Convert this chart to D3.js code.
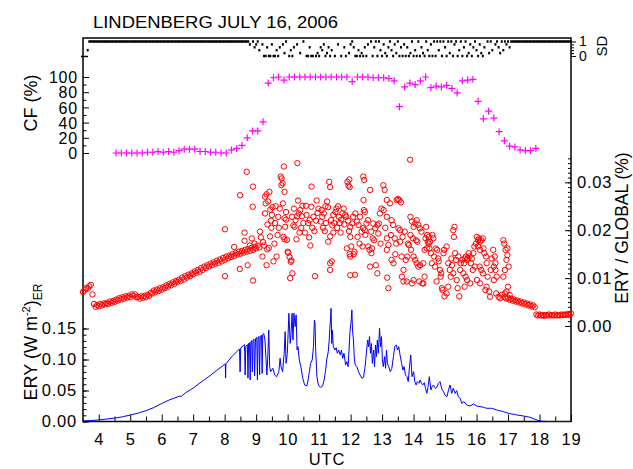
<!DOCTYPE html>
<html>
<head>
<meta charset="utf-8">
<script src="https://cdn.jsdelivr.net/npm/d3@7"></script>
<style>
  body { margin: 0; background: #fff; }
  svg text { font-family: "Liberation Sans", Arial, sans-serif; fill: #000; }
</style>
</head>
<body>
<svg id="chart" width="633" height="469"></svg>
<script>
// ---- tick labels ----
const hourTicks = [4, 5, 6, 7, 8, 9, 10, 11, 12, 13, 14, 15, 16, 17, 18, 19];
const eryTicks = [0, 0.05, 0.10, 0.15];
const ratioTicks = [0, 0.01, 0.02, 0.03];
const cfTicks = [0, 20, 40, 60, 80, 100];
const sdTicks = [0, 1];

// ---- cloud fraction (%), 10-minute values starting 4:33 UTC ----
const cfStart = 4.55, cfStep = 1 / 6;
const cfValues = [
  0, 0, 0, 0, 0, 0, 1, 1, 2, 1, 2, 1, 3, 5, 5, 5, 2, 2, 1, 1,
  0, 0, 4, 6, 10, 20, 29, 29, 41, 92, 99, 100, 96, 100,
  100, 100, 100, 100, 100, 100, 100, 100, 100, 100, 100,
  94, 100, 100, 100, 99, 99, 99, 98, 95, 61, 87, 92, 90, 95, 100,
  86, 88, 87, 89, 85, 79, 95, 96, 97, 68, 45, 55, 46, 28, 16, 9,
  8, 4, 3, 3, 6
];

// ---- sun-disk indicator (SD), 3-minute values from 3:30 UTC, null = missing ----
const sdStart = 3.5, sdStep = 0.05;
const sdValues = [
  null, null, null, 0.4,
  1,1,1,1,1,1,1,1,1,1, 1,1,1,1,1,1,1,1,1,1, 1,1,1,1,1,1,1,1,1,1, 1,1,1,1,1,1,1,1,1,1,
  1,1,1,1,1,1,1,1,1,1, 1,1,1,1,1,1,1,1,1,1, 1,1,1,1,1,1,1,1,1,1, 1,1,1,1,1,1,1,1,1,1,
  1,1,1,1,1,1,1,1,1,1, 1,1,1,1,1,1,1,1,1,1, 1,
  1, 0.8, null, 1, 0.6,
  0.8, 1, 0.4, null, 0.8,
  0, 0, 0.6, 0, 0, 0.8, 0, 0, 0.4, 0,
  0.6, null, 0.8, 0.2, 1, null, 0, 0.4, 0, 0.6,
  null, 0.8, null, 0.2, null, 1, null,
  0, 0, 0.6, 0, 0, null, 0, 0.2, 0,
  0.6, 0.4, 0.8, 0, 0.2, 0.6, 0, 0.4,
  null, 0, null, 0.8, null, 0, null, 0.6, 0, null, 0.2,
  0.8, 1, 0.6, 0, 0, 0.4, 0, 0.2, 0, 0.6, 0,
  0.8, null, 1, 0, 0.6, 1, 0, 1, 0.4, 0, 0.8, 0.2, 0, 0.6,
  1, 0.4, 0, 0.8, 0.2, 1, 0, 0.6,
  0, 0.8, 0, 0.6, 0, 0.2, 1, 0, 0.4, 0, 1, 0, 0.6, 0.2, 0, 1, 0.4, 0, 0.8, 0,
  1, 0, 1, 0.4, 1, 0, 1, 0.6, 0, 1, 0.2, 1, 0, 0.8, 1, 0, 0.4, 1, 0, 0.6, 1, 0, 0.2, 0.8, 0, 0.6, 1, 0.4, 0, 0.8, 0.2, 0,
  0.6, null, 1, 0.2, 1, 0.4, null, 0.8, 1, 0.6, 0.2, 1, 0.4, 1, 0.8, 1, 0.6, 1,
  1,1,1,1,1,1,1,1,1,1, 1,1,1,1,1,1,1,1,1,1, 1,1,1,1,1,1,1,1,1,1, 1,1,1,1,1,1,1,1
];

// ---- ERY / GLOBAL (%) : smooth morning record, 3-minute values from 3:30 UTC ----
const ratioMorningStart = 3.5, ratioStep = 0.05;
const ratioMorning = [
  .0071, .0075, .0079, .0078, .0083, .0086, .0066, .0046, .0040, .0044,
  .0041, .0046, .0043, .0047, .0045, .0048, .0046, .0051, .0048, .0052,
  .0050, .0055, .0053, .0058, .0055, .0060, .0057, .0062, .0059, .0063,
  .0060, .0066, .0063, .0066, .0060, .0061, .0057, .0062, .0059, .0063,
  .0060, .0065, .0063, .0069, .0068, .0074, .0071, .0076, .0073, .0079,
  .0076, .0081, .0079, .0085, .0082, .0088, .0085, .0091, .0088, .0094,
  .0092, .0097, .0094, .0101, .0097, .0104, .0101, .0107, .0104, .0110,
  .0108, .0114, .0111, .0117, .0113, .0121, .0117, .0124, .0121, .0127,
  .0124, .0130, .0127, .0133, .0130, .0136, .0132, .0139, .0135, .0142,
  .0138, .0145, .0141, .0147, .0144, .0150, .0146, .0152, .0149, .0155,
  .0151, .0157, .0153, .0159, .0155, .0161, .0157, .0163, .0159, .0165,
  .0162, .0168, .0164
];
// evening record from 16:54 UTC
const ratioEveningStart = 16.9;
const ratioEvening = [
  .0060, .0057, .0059, .0055, .0057, .0053, .0055, .0051, .0053, .0049,
  .0051, .0047, .0049, .0045, .0047, .0043, .0045, .0041, .0043, .0039,
  .0024, .0022, .0024, .0022, .0023, .0021, .0023, .0022, .0024, .0022,
  .0023, .0022, .0024, .0022, .0023, .0022, .0024, .0023, .0024, .0023,
  .0025, .0024, .0026
];
// cloudy period: [UTC hour, ratio]
const ratioCloudy = [
  [8.01,.0202],[8.01,.0104],[8.49,.0273],[8.48,.0119],[8.30,.0165],
  [8.70,.0322],[8.63,.0195],[8.63,.0178],[8.89,.0249],[8.90,.0291],[8.86,.0183],[8.73,.0127],[8.90,.0095],[8.80,.0168],[8.95,.0172],
  [9.12,.0197],[9.20,.0145],[9.28,.0235],[9.28,.0270],[9.30,.0256],[9.33,.0275],[9.38,.0260],[9.42,.0280],[9.45,.0243],[9.47,.0220],
  [9.48,.0205],[9.33,.0127],[9.35,.0160],[9.40,.0163],[9.22,.0175],[9.25,.0168],[9.15,.0185],[9.44,.0187],[9.50,.0232],[9.36,.0212],
  [9.65,.0145],[9.55,.0135],[9.60,.0215],[9.62,.0250],[9.70,.0228],[9.75,.0245],[9.81,.0308],[9.80,.0294],[9.84,.0298],[9.78,.0312],
  [9.88,.0333],[9.90,.0280],[9.85,.0256],[9.90,.0225],[9.92,.0207],[9.87,.0186],[9.90,.0181],[9.98,.0180],[9.95,.0222],[10.00,.0155],
  [9.58,.0172],[9.68,.0190],[9.72,.0205],[9.95,.0238],[9.52,.0248],
  [10.02,.0153],[10.06,.0144],[10.10,.0134],[10.12,.0137],[10.08,.0100],[10.15,.0110],[10.31,.0340],[10.18,.0210],[10.22,.0207],[10.25,.0221],
  [10.30,.0229],[10.35,.0235],[10.40,.0242],[10.45,.0229],[10.50,.0215],[10.28,.0181],[10.38,.0195],[10.20,.0245],[10.43,.0205],[10.33,.0262],
  [10.47,.0251],[10.14,.0228],
  [10.76,.0291],[10.87,.0104],[10.75,.0249],[10.78,.0205],[10.60,.0232],[10.65,.0215],[10.70,.0221],[10.82,.0228],[10.90,.0220],[10.95,.0236],
  [10.98,.0245],[10.55,.0195],[10.68,.0185],[10.85,.0198],[10.92,.0262],[10.58,.0251],[10.72,.0168],
  [11.05,.0218],[11.10,.0228],[11.15,.0235],[11.20,.0250],[11.25,.0260],[11.28,.0248],[11.32,.0301],[11.35,.0290],[11.29,.0176],[11.35,.0187],
  [11.38,.0221],[11.42,.0210],[11.45,.0232],[11.48,.0215],[11.35,.0131],[11.35,.0117],[11.40,.0135],[11.12,.0205],[11.18,.0198],[11.08,.0242],
  [11.22,.0215],[11.45,.0195],
  [11.52,.0238],[11.55,.0245],[11.60,.0250],[11.63,.0228],[11.66,.0215],[11.70,.0222],[11.74,.0235],[11.88,.0162],[11.96,.0306],[11.97,.0290],
  [11.97,.0150],[11.99,.0145],[11.99,.0106],[11.99,.0186],[11.99,.0207],[11.93,.0293],[11.90,.0301],[11.86,.0228],[11.80,.0212],[11.83,.0232],
  [11.92,.0220],[11.95,.0198],[11.78,.0245],[11.57,.0205],[11.68,.0195],
  [12.14,.0107],[12.10,.0150],[12.12,.0155],[12.40,.0312],[12.43,.0305],[12.41,.0263],[12.42,.0242],[12.45,.0238],[12.30,.0228],[12.25,.0211],
  [12.35,.0197],[12.40,.0204],[12.45,.0200],[12.50,.0214],[12.47,.0190],[12.20,.0218],[12.15,.0235],[12.05,.0214],[12.08,.0228],[12.28,.0172],
  [12.38,.0166],[12.02,.0166],[12.22,.0186],
  [12.62,.0284],[12.56,.0166],[12.60,.0159],[12.66,.0152],[12.62,.0124],[12.80,.0127],[12.85,.0110],[12.72,.0214],[12.78,.0204],[12.85,.0211],
  [12.90,.0214],[12.88,.0193],[12.68,.0162],[12.75,.0179],[12.95,.0172],[12.55,.0221],[12.93,.0235],[12.98,.0245],[12.65,.0197],[12.70,.0183],
  [13.04,.0294],[13.08,.0284],[13.15,.0263],[13.25,.0256],[13.15,.0228],[13.30,.0221],[13.35,.0211],[13.15,.0183],[13.20,.0169],[13.15,.0159],
  [13.16,.0101],[13.20,.0079],[13.30,.0138],[13.36,.0131],[13.46,.0263],[13.50,.0265],[13.40,.0183],[13.45,.0172],[13.10,.0205],[13.28,.0190],
  [13.42,.0150],[13.05,.0242],
  [13.55,.0263],[13.60,.0258],[13.52,.0204],[13.57,.0200],[13.65,.0186],[13.57,.0176],[13.62,.0145],[13.68,.0117],[13.63,.0103],[13.68,.0093],
  [13.75,.0138],[13.80,.0145],[13.78,.0093],[13.89,.0347],[13.90,.0228],[13.95,.0218],[14.00,.0207],[13.90,.0190],[13.98,.0183],[13.85,.0169],
  [13.92,.0159],[14.00,.0145],[13.95,.0089],[14.00,.0096],[13.82,.0172],[13.72,.0197],
  [14.05,.0214],[14.10,.0221],[14.15,.0211],[14.20,.0204],[14.25,.0197],[14.08,.0179],[14.12,.0176],[14.05,.0138],[14.10,.0131],[14.15,.0124],
  [14.21,.0127],[14.31,.0131],[14.31,.0089],[14.40,.0207],[14.43,.0190],[14.45,.0176],[14.42,.0162],[14.48,.0172],[14.35,.0159],[14.48,.0186],
  [14.28,.0089],[14.50,.0162],[14.38,.0183],[14.18,.0093],[14.35,.0103],
  [14.52,.0176],[14.60,.0190],[14.63,.0183],[14.70,.0162],[14.75,.0159],[14.65,.0145],[14.73,.0093],[14.84,.0117],[14.88,.0110],[14.86,.0103],
  [14.90,.0079],[14.95,.0152],[14.97,.0159],[14.92,.0075],[14.98,.0062],[14.80,.0135],[14.58,.0131],[14.68,.0124],[14.55,.0152],[14.78,.0141],
  [15.05,.0166],[15.10,.0131],[15.15,.0117],[15.05,.0068],[15.10,.0082],[15.26,.0200],[15.30,.0207],[15.28,.0186],[15.32,.0152],[15.22,.0127],
  [15.26,.0110],[15.37,.0096],[15.40,.0079],[15.45,.0062],[15.48,.0117],[15.20,.0141],[15.35,.0138],[15.42,.0145],[15.18,.0103],[15.50,.0131],
  [15.55,.0138],[15.60,.0131],[15.63,.0141],[15.66,.0145],[15.69,.0138],[15.72,.0141],[15.75,.0152],[15.78,.0145],[15.82,.0131],[15.85,.0141],
  [15.90,.0152],[15.58,.0110],[15.65,.0103],[15.70,.0096],[15.88,.0117],[15.95,.0124],[15.62,.0082],[15.80,.0089],[15.93,.0166],[15.98,.0172],
  [16.01,.0186],[16.05,.0179],[16.08,.0183],[16.11,.0176],[16.15,.0179],[16.20,.0183],[16.05,.0166],[16.11,.0159],[16.22,.0162],[16.25,.0152],
  [16.30,.0145],[16.32,.0131],[16.10,.0124],[16.15,.0117],[16.20,.0110],[16.01,.0096],[16.11,.0089],[16.32,.0082],[16.43,.0061],[16.40,.0072],
  [16.35,.0103],[16.28,.0075],[16.45,.0117],[16.48,.0141],
  [16.53,.0159],[16.58,.0145],[16.60,.0131],[16.55,.0124],[16.60,.0117],[16.64,.0103],[16.55,.0096],[16.62,.0068],[16.70,.0061],[16.75,.0058],
  [16.85,.0179],[16.88,.0172],[16.92,.0159],[16.98,.0162],[16.95,.0138],[16.98,.0148],[16.90,.0117],[16.85,.0103],[17.02,.0124],[17.00,.0082],
  [16.95,.0072],[17.05,.0065],[16.80,.0065],[16.90,.0068]
];

// ---- erythemal irradiance ERY (W m-2): [UTC hour, value] ----
const eryPoints = [
  [3.50,.0010],[3.75,.0015],[4.00,.0025],[4.25,.0040],[4.50,.0055],[4.75,.0075],[5.00,.0105],[5.25,.0135],[5.50,.0175],[5.75,.0225],
  [6.00,.0290],[6.25,.0350],[6.50,.0395],[6.58,.0410],[6.62,.0405],[6.75,.0460],[7.00,.0540],[7.25,.0635],[7.50,.0725],[7.75,.0825],
  [8.00,.0920],[8.02,.0930],[8.03,.0700],[8.04,.0930],[8.25,.1060],[8.45,.1160],
  [8.47,.117],[8.49,.080],[8.51,.119],[8.59,.122],[8.63,.124],[8.65,.075],[8.67,.121],[8.72,.124],[8.74,.070],[8.76,.126],
  [8.79,.127],[8.81,.067],[8.83,.128],[8.86,.1305],[8.88,.080],[8.90,.1315],[8.93,.133],[8.95,.0735],[8.98,.134],[9.02,.1355],
  [9.04,.067],[9.06,.136],[9.09,.137],[9.11,.075],[9.13,.138],[9.17,.139],[9.19,.0775],[9.21,.140],[9.24,.142],
  [9.28,.1315],[9.34,.075],[9.37,.1046],[9.40,.1476],[9.43,.0884],[9.46,.0804],[9.53,.0858],[9.59,.075],[9.65,.0723],[9.72,.0804],
  [9.76,.1019],[9.79,.0884],[9.84,.0804],[9.89,.110],[9.92,.145],[9.95,.0938],[9.99,.110],[10.04,.1745],[10.08,.126],[10.11,.1422],
  [10.14,.1745],[10.17,.1315],[10.20,.1745],[10.24,.153],[10.27,.172],[10.30,.1153],[10.33,.1207],[10.37,.0992],[10.42,.0884],[10.48,.0697],
  [10.54,.0589],[10.61,.0573],[10.65,.067],[10.69,.0804],[10.73,.0938],[10.78,.0992],[10.82,.1207],[10.85,.1637],[10.87,.1584],[10.89,.1153],
  [10.93,.0723],[10.97,.0605],[11.01,.0562],[11.05,.0551],[11.11,.0573],[11.16,.067],[11.20,.0804],[11.24,.0992],[11.29,.1127],[11.32,.1315],
  [11.34,.1503],[11.36,.1637],[11.38,.1826],[11.40,.126],[11.42,.1476],[11.45,.1207],[11.50,.1153],[11.54,.119],[11.58,.110],[11.62,.1153],
  [11.67,.1073],[11.71,.1153],[11.75,.1019],[11.79,.110],[11.84,.0911],[11.88,.0965],[11.92,.0884],[11.95,.1153],[11.98,.145],[12.02,.1637],
  [12.04,.180],[12.06,.1476],[12.09,.1315],[12.12,.0992],[12.15,.0911],[12.20,.0884],[12.25,.0804],[12.30,.075],[12.36,.0697],[12.41,.0713],
  [12.46,.0884],[12.49,.1046],[12.54,.1315],[12.57,.1207],[12.60,.137],[12.63,.110],[12.66,.126],[12.69,.0938],[12.73,.1153],[12.76,.0884],
  [12.79,.1235],[12.82,.1046],[12.85,.1315],[12.88,.110],[12.92,.1503],[12.95,.1207],[12.98,.137],[13.01,.0992],[13.04,.0884],[13.08,.1046],
  [13.11,.0858],[13.14,.1153],[13.17,.0938],[13.21,.0884],[13.26,.0804],[13.31,.0858],[13.36,.1046],[13.40,.1207],[13.45,.1235],[13.49,.1153],
  [13.53,.1207],[13.57,.1073],[13.62,.0938],[13.66,.083],[13.70,.0884],[13.74,.075],[13.79,.0723],[13.83,.0643],[13.87,.0884],[13.91,.1073],
  [13.95,.0723],[14.00,.0804],[14.04,.0643],[14.08,.0589],[14.12,.0643],[14.17,.0616],[14.21,.067],[14.25,.0616],[14.29,.0589],[14.34,.0627],
  [14.38,.0535],[14.42,.0454],[14.46,.0562],[14.50,.0723],[14.55,.0508],[14.59,.0562],[14.63,.0589],[14.69,.0535],[14.74,.0551],[14.79,.0616],
  [14.84,.0643],[14.90,.0519],[14.95,.0481],[15.00,.0427],[15.06,.040],[15.11,.0508],[15.16,.0589],
  [15.21,.0454],[15.26,.0535],[15.32,.0454],[15.37,.0498],[15.42,.040],[15.48,.0374],[15.53,.0293],[15.60,.032],[15.69,.0266],[15.79,.025],
  [15.90,.0283],[16.01,.025],[16.11,.024],[16.22,.0229],[16.32,.0213],[16.48,.0213],[16.64,.0186],[16.85,.0159],[17.01,.0132],[17.28,.0105],
  [17.49,.0089],[17.70,.0068],[17.86,.0035],[18.02,.0008],[18.23,0],[19.00,0]
];

// ---- layout ----
const svg = d3.select("#chart");
const plotL = 83, plotR = 571, plotT = 38, plotB = 421.5;

const x = d3.scaleLinear().domain([3.5, 19]).range([plotL, plotR]);
const yEry = d3.scaleLinear().domain([0, 0.15]).range([plotB, 328.5]);
const yRatio = d3.scaleLinear().domain([0, 0.03]).range([326, 182.3]);
const yCF = d3.scaleLinear().domain([0, 100]).range([153, 77]);
const ySD = d3.scaleLinear().domain([0, 1]).range([56, 41.5]);

const tickFont = size => g => g.selectAll("text")
  .attr("font-size", size).attr("font-family", null).style("letter-spacing", "0.8px");
const noDomain = g => g.select(".domain").remove();

// frame
svg.append("rect")
  .attr("x", plotL).attr("y", plotT).attr("width", plotR - plotL).attr("height", plotB - plotT)
  .attr("fill", "none").attr("stroke", "#000").attr("stroke-width", 1.5);

// bottom time axis
svg.append("g").attr("transform", `translate(0,${plotB})`)
  .call(d3.axisBottom(x).tickValues(hourTicks).tickSizeInner(-7).tickSizeOuter(0)
    .tickPadding(12).tickFormat(d3.format("d")))
  .call(noDomain).call(tickFont(16.5));
svg.append("g").attr("transform", `translate(0,${plotB})`)
  .call(d3.axisBottom(x).tickValues(d3.range(4.5, 19, 1)).tickSize(-5).tickFormat(""))
  .call(noDomain);

// left ERY axis
svg.append("g").attr("transform", `translate(${plotL},0)`)
  .call(d3.axisLeft(yEry).tickValues(eryTicks).tickSizeInner(-6).tickSizeOuter(0)
    .tickPadding(6).tickFormat(d3.format(".2f")))
  .call(noDomain).call(tickFont(16.5));
svg.append("g").attr("transform", `translate(${plotL},0)`)
  .call(d3.axisLeft(yEry).tickValues(d3.range(0, 0.1501, 0.01)).tickSize(-3.5).tickFormat(""))
  .call(noDomain);

// left CF axis (labels stacked tightly, 15 px apart)
svg.append("g").attr("transform", `translate(${plotL},0)`)
  .call(d3.axisLeft(yCF).tickValues(cfTicks).tickSizeInner(-6).tickSizeOuter(0)
    .tickPadding(5).tickFormat(d3.format("d")))
  .call(noDomain).call(tickFont(16))
  .call(g => g.selectAll("text").attr("dy", "0.36em"));
svg.append("g").attr("transform", `translate(${plotL},0)`)
  .call(d3.axisLeft(yCF).tickValues(d3.range(10, 100, 20)).tickSize(-3.5).tickFormat(""))
  .call(noDomain);

// left SD tick (crosses the axis line)
svg.append("g").attr("transform", `translate(${plotL + 5},0)`)
  .call(d3.axisLeft(ySD).tickValues([0]).tickSize(7).tickFormat(""))
  .call(noDomain)
  .selectAll("line").attr("stroke-width", 1.5);

// right ERY/GLOBAL axis
svg.append("g").attr("transform", `translate(${plotR},0)`)
  .call(d3.axisRight(yRatio).tickValues(ratioTicks).tickSizeInner(-6).tickSizeOuter(0)
    .tickPadding(6).tickFormat(d3.format(".2f")))
  .call(noDomain).call(tickFont(16.5));
svg.append("g").attr("transform", `translate(${plotR},0)`)
  .call(d3.axisRight(yRatio).tickValues(d3.range(0, 0.0355, 0.001)).tickSize(-3).tickFormat(""))
  .call(noDomain);

// right SD axis
svg.append("g").attr("transform", `translate(${plotR},0)`)
  .call(d3.axisRight(ySD).tickValues(sdTicks).tickSizeInner(5).tickSizeOuter(0)
    .tickPadding(3).tickFormat(d3.format("d")))
  .call(noDomain)
  .call(g => g.selectAll("text").attr("font-size", 14).attr("font-family", null));
svg.append("g").attr("transform", `translate(${plotR},0)`)
  .call(d3.axisRight(ySD).tickValues([0.2, 0.4, 0.6, 0.8]).tickSize(3).tickFormat(""))
  .call(noDomain);

// ---- marks ----
// erythemal irradiance
svg.append("path")
  .datum(eryPoints)
  .attr("fill", "none").attr("stroke", "#0000ff").attr("stroke-width", 1)
  .attr("d", d3.line().x(d => x(d[0])).y(d => yEry(d[1])));

// ERY / GLOBAL ratio
const ratioAll = []
  .concat(ratioMorning.map((v, i) => [ratioMorningStart + i * ratioStep, v]))
  .concat(ratioCloudy)
  .concat(ratioEvening.map((v, i) => [ratioEveningStart + i * ratioStep, v]));
svg.append("g").selectAll("circle")
  .data(ratioAll).join("circle")
  .attr("cx", d => x(d[0])).attr("cy", d => yRatio(d[1])).attr("r", 2.7)
  .attr("fill", "none").attr("stroke", "#ff0000").attr("stroke-width", 1);

// cloud fraction
svg.append("g").selectAll("path")
  .data(cfValues.map((v, i) => [cfStart + i * cfStep, v])).join("path")
  .attr("transform", d => `translate(${x(d[0])},${yCF(d[1])})`)
  .attr("d", "M-3.5,0H3.5M0,-3.5V3.5")
  .attr("stroke", "#ff00ff").attr("stroke-width", 1.2);

// sun-disk indicator
svg.append("g").selectAll("rect")
  .data(sdValues.map((v, i) => [sdStart + i * sdStep, v]).filter(d => d[1] !== null)).join("rect")
  .attr("x", d => x(d[0]) - 1).attr("y", d => ySD(d[1]) - 1.25)
  .attr("width", 2).attr("height", 2.5).attr("fill", "#000");

// ---- titles ----
svg.append("text").attr("x", 93).attr("y", 28).attr("font-size", 16.5)
  .attr("textLength", 245).attr("lengthAdjust", "spacingAndGlyphs")
  .text("LINDENBERG JULY 16, 2006");

svg.append("text").attr("x", 327).attr("y", 465).attr("text-anchor", "middle")
  .attr("font-size", 16.5).style("letter-spacing", "0.8px").text("UTC");

svg.append("text").attr("transform", "translate(37,103) rotate(-90)")
  .attr("text-anchor", "middle").attr("font-size", 18).text("CF (%)");

const eryLabel = svg.append("text").attr("transform", "translate(37,342) rotate(-90)")
  .attr("text-anchor", "middle").attr("font-size", 18);
eryLabel.append("tspan").text("ERY (W m");
eryLabel.append("tspan").attr("font-size", 11).attr("dy", -7).text("-2");
eryLabel.append("tspan").attr("dy", 7).text(")");
eryLabel.append("tspan").attr("font-size", 12).attr("dy", 5).text("ER");

svg.append("text").attr("transform", "translate(628,228) rotate(-90)")
  .attr("text-anchor", "middle").attr("font-size", 17.5).text("ERY / GLOBAL (%)");

svg.append("text").attr("transform", "translate(607,46) rotate(-90)")
  .attr("text-anchor", "middle").attr("font-size", 15).text("SD");
</script>
</body>
</html>
